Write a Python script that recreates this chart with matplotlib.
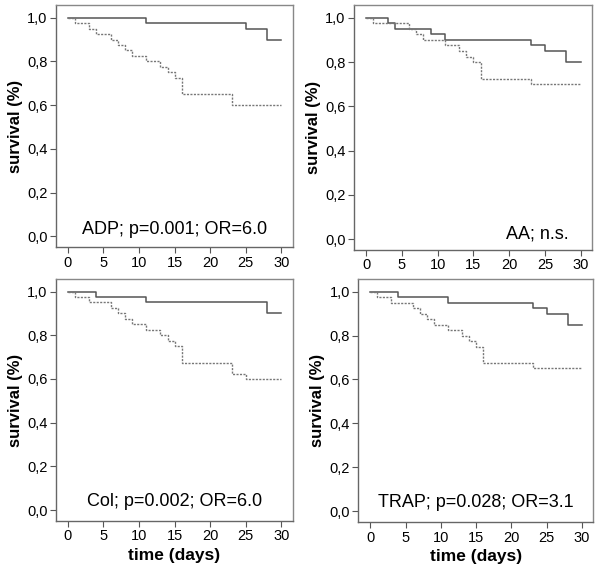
import matplotlib
matplotlib.use("Agg")
import matplotlib.pyplot as plt

plt.rcParams['font.family'] = ['Liberation Sans', 'DejaVu Sans']

# Kaplan-Meier step data: times of drops and survival after each drop
# ADP
adp_solid_t = [0, 11, 25, 28, 30]
adp_solid_s = [1.0, 0.975, 0.95, 0.90, 0.90]
adp_dot_t = [0, 1, 3, 4, 6, 7, 8, 9, 11, 13, 14, 15, 16, 23, 30]
adp_dot_s = [1.0, 0.975, 0.95, 0.925, 0.90, 0.875, 0.85, 0.825, 0.80, 0.775, 0.75, 0.725, 0.65, 0.60, 0.60]
# AA
aa_solid_t = [0, 3, 4, 9, 11, 23, 25, 28, 30]
aa_solid_s = [1.0, 0.975, 0.95, 0.925, 0.90, 0.875, 0.85, 0.80, 0.80]
aa_dot_t = [0, 1, 6, 7, 8, 11, 13, 14, 15, 16, 23, 30]
aa_dot_s = [1.0, 0.975, 0.95, 0.925, 0.90, 0.875, 0.85, 0.825, 0.80, 0.725, 0.70, 0.70]
# Col
col_solid_t = [0, 4, 11, 28, 30]
col_solid_s = [1.0, 0.975, 0.95, 0.90, 0.90]
col_dot_t = [0, 1, 3, 6, 7, 8, 9, 11, 13, 14, 15, 16, 23, 25, 30]
col_dot_s = [1.0, 0.975, 0.95, 0.925, 0.90, 0.875, 0.85, 0.825, 0.80, 0.775, 0.75, 0.675, 0.625, 0.60, 0.60]
# TRAP
trap_solid_t = [0, 4, 11, 23, 25, 28, 30]
trap_solid_s = [1.0, 0.975, 0.95, 0.925, 0.90, 0.85, 0.85]
trap_dot_t = [0, 1, 3, 6, 7, 8, 9, 11, 13, 14, 15, 16, 23, 30]
trap_dot_s = [1.0, 0.975, 0.95, 0.925, 0.90, 0.875, 0.85, 0.825, 0.80, 0.775, 0.75, 0.675, 0.65, 0.65]

labels = ["ADP; p=0.001; OR=6.0", "AA; n.s.", "Col; p=0.002; OR=6.0", "TRAP; p=0.028; OR=3.1"]
xticks = [0, 5, 10, 15, 20, 25, 30]
yticks = [0.0, 0.2, 0.4, 0.6, 0.8, 1.0]
ytick_labels = ["0,0", "0,2", "0,4", "0,6", "0,8", "1,0"]

panels = [
    (adp_solid_t, adp_solid_s, adp_dot_t, adp_dot_s),
    (aa_solid_t, aa_solid_s, aa_dot_t, aa_dot_s),
    (col_solid_t, col_solid_s, col_dot_t, col_dot_s),
    (trap_solid_t, trap_solid_s, trap_dot_t, trap_dot_s),
]

positions = [
    [0.093, 0.573, 0.395, 0.418],
    [0.590, 0.568, 0.397, 0.423],
    [0.093, 0.100, 0.395, 0.418],
    [0.597, 0.098, 0.392, 0.420],
]
text_pos = [(0.5, 0.075, 'center'), (0.90, 0.066, 'right'), (0.5, 0.083, 'center'), (0.5, 0.082, 'center')]

fig = plt.figure(figsize=(6, 5.79), dpi=100)

for i, (st, ss, dt, ds) in enumerate(panels):
    ax = fig.add_axes(positions[i])
    ax.step(st, ss, where='post', color='#555555', lw=1.1)
    ax.step(dt, ds, where='post', color='#777777', lw=1.0, linestyle=(0, (1.5, 1)))
    ax.set_xlim(-1.7, 31.6)
    ax.set_ylim(-0.05, 1.057)
    ax.set_xticks(xticks)
    ax.set_yticks(yticks)
    ax.set_yticklabels(ytick_labels)
    ax.tick_params(direction='out', length=4, color='#555555', labelsize=10.5, pad=2)
    for sp in ax.spines.values():
        sp.set_color('#888888')
        sp.set_linewidth(1.0)
    ax.spines['left'].set_color('#666666')
    ax.spines['bottom'].set_color('#666666')
    ax.set_ylabel("survival (%)", fontsize=12, fontweight='bold', labelpad=3)
    if i >= 2:
        ax.set_xlabel("time (days)", fontsize=12.5, fontweight='bold', labelpad=3)
    tx, ty, ha = text_pos[i]
    ax.text(tx, ty, labels[i], transform=ax.transAxes, ha=ha, va='center', fontsize=13)

fig.savefig("out.png", dpi=100)
